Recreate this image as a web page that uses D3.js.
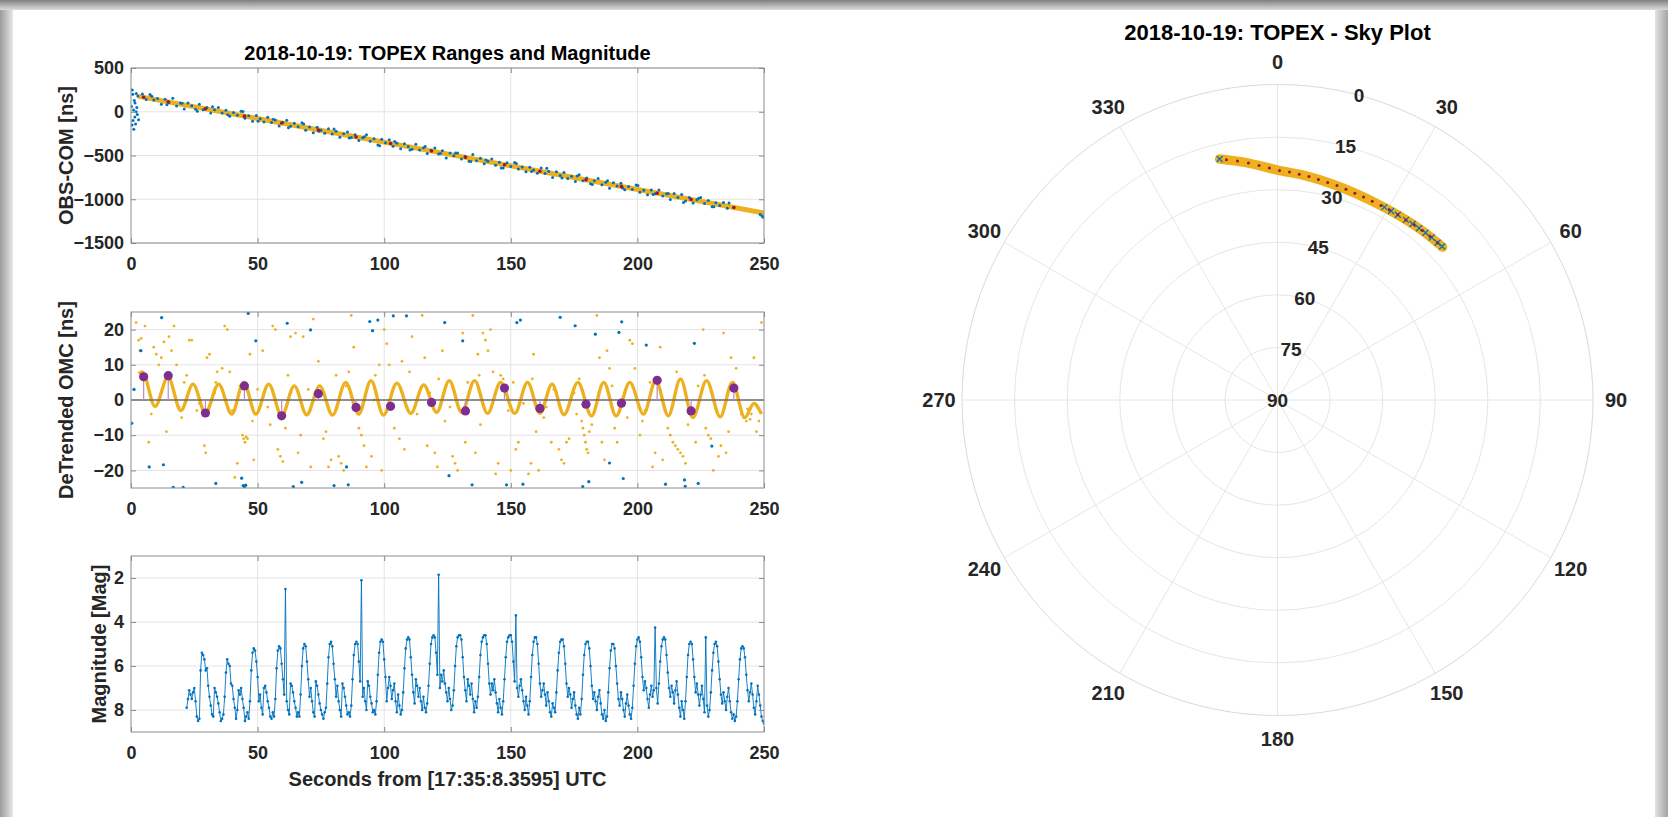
<!DOCTYPE html>
<html><head><meta charset="utf-8">
<script src="https://cdn.jsdelivr.net/npm/d3@7"></script>
<style>
body{margin:0;background:#fff;overflow:hidden;}
svg{display:block;}
text{font-family:"Liberation Sans",Arial,Helvetica,sans-serif;font-weight:bold;}
</style></head><body>
<svg id="c" width="1668" height="817"></svg>
<script>
// ---------------- DATA ----------------
const X_TICKS = [0, 50, 100, 150, 200, 250];
const TOP_Y_TICKS = [500, 0, -500, -1000, -1500];
const MID_Y_TICKS = [-20, -10, 0, 10, 20];
const MAG_Y_TICKS = [2, 4, 6, 8];
const AZ_TICKS = [0, 30, 60, 90, 120, 150, 180, 210, 240, 270, 300, 330];
const EL_TICKS = [0, 15, 30, 45, 60, 75, 90];

// Top panel: raw OBS-COM (blue) [t, ns]
const topBlue = [
[0.2,60],[0.4,-150],[0.5,250],[0.7,200],[0.8,-100],[1.0,20],[1.1,-200],[1.3,130],[1.5,-60],[1.6,100],[1.8,-140],[2.0,0],[2.1,210],[2.3,50],[2.5,-30],[2.7,180],[3.0,-90],
[4.5,204],[6,140],[7.5,196],[9,133],[10.5,151],[12,87],[13.5,143],[15,107],[16.5,153],[18,67],[19.5,99],[21,31],[22.5,101],[24,68],[25.5,30],[27,86],[28.5,22],[30,50],[31.5,-14],[33,22],[34.5,50],[36,-14],[37.5,18],[39,-51],[40.5,-9],[42,-41],[43.5,5],[45,-73],[46.5,-45],[48,-109],[49.5,-43],[51,-79],[52.5,-118],[54,-62],[55.5,-122],[57,-94],[58.5,-162],[60,-122],[61.5,-98],[63,-166],[64.5,-130],[66,-172],[67.5,-127],[69,-211],[70.5,-173],[72,-241],[73.5,-177],[75,-211],[76.5,-245],[78,-193],[79.5,-255],[81,-223],[82.5,-292],[84,-250],[85.5,-230],[87,-294],[88.5,-262],[90,-328],[91.5,-296],[93,-262],[94.5,-338],[96,-308],[97.5,-381],[99,-313],[100.5,-355],[102,-321],[103.5,-395],[105,-361],[106.5,-423],[108,-367],[109.5,-397],[111,-429],[112.5,-372],[114,-436],[115.5,-412],[117,-476],[118.5,-440],[120,-414],[121.5,-482],[123,-446],[124.5,-528],[126,-472],[127.5,-503],[129,-471],[130.5,-539],[132,-509],[133.5,-567],[135,-489],[136.5,-559],[138,-531],[139.5,-593],[141,-565],[142.5,-540],[144,-610],[145.5,-578],[147,-644],[148.5,-582],[150,-626],[151.5,-580],[153,-654],[154.5,-630],[156,-686],[157.5,-635],[159,-665],[160.5,-703],[162,-643],[163.5,-705],[165,-681],[166.5,-751],[168,-685],[169.5,-729],[171,-695],[172.5,-764],[174,-738],[175.5,-796],[177,-720],[178.5,-788],[180,-758],[181.5,-822],[183,-788],[184.5,-762],[186,-834],[187.5,-807],[189,-875],[190.5,-811],[192,-849],[193.5,-817],[195,-891],[196.5,-853],[198,-889],[199.5,-837],[201,-919],[202.5,-896],[204,-948],[205.5,-894],[207,-936],[208.5,-894],[210,-962],[211.5,-938],[213,-1002],[214.5,-934],[216,-980],[217.5,-945],[219,-1019],[220.5,-981],[222,-1043],[223.5,-1005],[225,-979],[226.5,-1049],[228,-1013],[229.5,-1087],[231,-1041],[232.5,-1072],[234,-1038],[235.5,-1104],
[8.2,178],[14.2,80],[20.2,98],[26.2,6],[32.2,58],[38.2,-34],[44.2,3],[50.2,-109],[56.2,-87],[62.2,-184],[68.2,-141],[74.2,-224],[80.2,-196],[86.2,-299],[92.2,-286],[98.2,-388],[104.2,-341],[110.2,-438],[116.2,-396],[122.2,-478],[128.2,-470],[134.2,-568],[140.2,-550],[146.2,-643],[152.2,-590],[158.2,-682],[164.2,-645],[170.2,-757],[176.2,-735],[182.2,-832],[188.2,-789],[194.2,-872],[200.2,-844],[206.2,-947],[212.2,-934],[218.2,-1036],[224.2,-989],[230.2,-1086],[236.2,-1044],
[248.5,-1175],[249.2,-1190],[249.7,-1205]
];
// Top panel: fitted range (orange band) [t, ns]
const topFit = [[3.5,173],[60,-132],[120,-456],[180,-780],[250,-1158]];

// Normal points (purple)
const npT   = [5.0,14.7,29.4,44.8,59.5,74.0,88.9,102.5,118.7,132.1,147.5,161.5,179.7,193.7,207.8,221.2,238.1];
const npV   = [6.6,6.9,-3.7,4.0,-4.5,1.8,-2.1,-1.8,-0.7,-3.1,3.4,-2.4,-1.2,-0.9,5.6,-3.1,3.4];
const npTop = [165,113,33,-50,-129,-208,-288,-362,-449,-521,-605,-680,-778,-854,-930,-1002,-1094];

// Middle panel: de-trended OMC band extremes [t, ns]
const midBandT = [3,4.5,9.5,14.6,19.7,24.5,29.4,34.6,39.8,44.5,49.3,54.4,59.5,64.5,69.4,74.5,79.6,84.8,89.9,94.8,99.7,105,110.5,115.6,120.7,125.7,130.6,135.7,140.8,146,151.6,156.6,161.5,166.3,171,176.5,181.9,186.7,191.6,197,202.4,207.3,212.2,217,221.9,227.3,232.7,237.5,242.4,246,249];
const midBandV = [7.5,8,-1.8,6.5,-3.0,4.5,-3.7,4.5,-4.0,5.0,-4.0,4.5,-4.5,4.0,-4.2,4.0,-4.3,5.0,-4.0,5.5,-4.3,4.8,-3.8,4.3,-3.5,5.5,-3.5,5.5,-3.8,5.0,-3.8,5.0,-3.8,4.5,-4.2,5.0,-4.5,5.0,-4.5,5.0,-4.0,5.5,-4.5,6.0,-5.0,5.5,-4.8,5.0,-5.0,-1,-4];
// Middle panel: scattered orange points
const midOrange = [
[2,22],[3,17],[3.5,14],[4,17.5],[5.5,21],[7,-12],[8,-4],[9,15],[10,13],[11,10],[12,12],[13,16.5],[14,-9],[15,18],[16,14],[17,21],[18,10],[19,-2],[20,-5],[21,5],[22,7],[23,17],[24,17],[26,-3],[27,-1],[29,-13],[29.5,-15],[30,12],[31,13],[33,2],[33.5,5],[34,8],[36,9],[37,21],[38,20],[39,8],[40,-3],[41,-22],[42,-18],[43,4],[44,-10],[44.5,-11],[45,-12],[45.5,-10.5],[46,-11],[47,13],[48,-6],[48.5,-17],[50,3],[52,14],[54,-2],[55,-7],[56,21],[57,20],[58,-14],[59,-16],[60,-17.5],[61,-8],[62,7],[63,18],[65,19],[66,-15],[67,-10],[68,18],[70,3],[71,-19],[72,23],[74,11],[76,-11],[77,-9],[78,-19],[79,-17],[81,7],[82,-16],[83,-18],[84,-20],[85,4],[86,8],[87,24],[88,15],[90,-8],[91,-10],[92,-13],[93,-19],[95,-16],[96,0],[96.5,7],[98,10],[99,-20],[100,20],[101,16],[102,10],[104,-8],[106,-11],[107,11],[108,-14],[110,8],[111,18],[113,-4],[115,24],[116,12],[117,-13],[118,2],[120,-15],[121,-19],[121.5,6],[123,14],[124,-6],[126,-2],[127,-16],[128,-18],[129,-20],[131,19],[132,-12],[133,5],[135,24],[136,-15],[137,13],[137.5,7],[138,-7],[139,19],[140,17],[141,14],[142,20],[143,8],[144,-21],[145,-18],[146,7],[147,6],[149,-3],[150,-20],[151,5],[152,-14],[153,-12],[155,-1],[157,-21],[158,-18],[158.5,6],[159,13],[160,-9],[161,-20],[163,-5],[164,-2],[166,-12],[167,3],[169,-14],[170,-17],[171,-18],[172,-12],[173,-11],[175,2],[176,-4],[177,6],[178,-6],[178.5,-8],[179,-10],[179.5,-12],[180,-14],[180.5,-15],[181,-9],[182,-7],[184,24],[185,12],[186,-12],[187,-17],[188,14],[189,9],[190,4],[191,-8],[192,-12],[196,-5],[197,17],[198,16],[199,9],[201,-10],[202,-6],[203,-3],[205,5],[206,-19],[207,-15],[209,15],[210,-17],[212,-8],[213,-10],[214,-12],[215,-13],[215.5,8],[216,-14],[217,-15],[218,-16],[219,-18],[220,-7],[223,-12],[224,4],[226,20],[226.5,7],[227,-8],[228,-10],[229,-11],[230,-20],[232,-16],[233,-13],[234,19],[235,-15],[236,-9],[237,12],[238,5],[239,9],[241,-4],[242,-5],[243,-6],[243.5,-2.5],[244,-3],[244.5,-5.5],[245,-4],[246,12],[247,-9],[248,-6],[249,22]
];
// Middle panel: blue outliers
const midBlue = [
[0.3,-6.6],[1.2,3.0],[3.9,14.0],[7.2,-19],[12.1,23.4],[12.8,-18.4],[16.7,-24.8],[20.6,-24.8],[33.5,-23.7],[43.7,-22.2],[44.3,-24.3],[44.8,-24.6],[45.3,-24.2],[46.3,24.6],[49.3,16.8],[61.7,21.8],[64.1,-24.6],[67.4,-23.4],[70.9,19.9],[80.2,-24.3],[85.1,-19],[85.8,-24.1],[94.3,22.3],[95.4,19.7],[97.5,22.7],[103.6,23.9],[108.8,23.9],[123.9,22],[125.6,-21.5],[131,16.8],[134.7,-24.1],[148.3,-24.1],[152.4,22],[153.8,22.7],[154.8,-23.9],[169.5,23.5],[175.4,21.1],[178.4,-24.6],[180.8,-23.2],[183.4,18.7],[189,-17.9],[192.7,19.2],[193.8,22.2],[194.4,-22.3],[203.5,15.6],[211.1,-23.9],[218.6,-22.7],[218.9,-24.5],[222.5,16.1],[224,-23.7],[229.4,-13.1]
];

// Bottom panel: magnitude, one sample every 0.5 s starting at t = 22 s
const magStart = 22;
const magStep = 0.5;
const magVals = [
7.9,7.5,7.1,7.3,7.5,7.2,7.0,7.6,8.3,8.5,8.4,6.2,5.4,5.5,5.7,6.2,6.1,6.9,7.4,7.8,
8.2,8.3,7.0,7.2,7.4,7.7,8.1,8.5,8.4,8.2,7.4,6.3,5.7,5.9,6.0,6.8,6.9,7.5,7.9,8.4,
8.0,7.1,7.3,7.0,7.5,7.9,8.5,8.3,8.1,8.4,7.6,6.2,5.4,5.2,5.3,5.8,6.5,7.6,7.3,7.9,
8.2,7.0,6.9,7.2,7.6,7.9,8.3,8.4,8.1,8.3,7.5,6.1,5.3,5.1,5.2,5.9,6.6,7.3,2.5,7.6,
8.0,8.2,6.8,6.9,7.2,7.6,7.9,8.3,8.1,8.3,7.3,6.0,5.2,5.0,5.1,5.8,6.6,7.4,7.0,7.6,
8.1,8.3,6.7,6.9,7.3,7.7,8.0,8.2,8.4,8.1,7.9,6.8,5.6,5.0,4.9,5.1,5.9,6.6,7.4,6.9,
7.6,8.0,8.3,6.8,7.0,7.4,7.8,8.2,8.1,8.3,7.8,6.6,5.5,5.0,4.9,5.0,5.8,6.7,2.1,7.4,
7.0,7.6,8.0,6.7,6.9,7.4,7.7,8.1,8.0,8.2,7.6,6.4,5.4,4.9,4.8,4.9,5.7,6.5,7.6,7.0,
6.5,6.9,7.5,7.1,6.8,7.6,8.1,7.3,7.8,8.2,8.0,7.2,6.1,5.2,4.8,4.7,4.8,5.6,6.4,7.2,
7.7,6.6,6.9,7.4,7.0,7.6,8.0,7.4,7.9,8.1,7.7,6.9,5.9,5.0,4.7,4.6,4.7,5.4,6.4,1.85,
7.0,6.4,6.7,6.2,6.8,7.2,7.6,7.0,7.5,8.0,7.8,7.1,6.0,5.1,4.7,4.6,4.6,4.8,5.6,6.5,
7.1,7.6,6.6,6.9,7.3,6.8,7.5,8.1,7.6,7.9,7.4,6.5,5.5,4.9,4.7,4.6,4.6,5.0,5.9,6.8,
7.3,6.8,7.1,6.6,7.2,7.7,8.1,7.5,7.9,8.2,7.6,6.6,5.6,4.9,4.7,4.6,4.6,4.9,5.8,6.7,
3.7,7.0,7.4,6.9,6.6,7.1,7.6,8.0,7.4,7.8,8.2,7.6,6.5,5.5,4.9,4.7,4.7,5.0,5.9,6.8,
7.4,7.1,6.8,7.3,7.8,7.2,7.6,8.1,8.3,7.7,7.9,8.1,7.2,6.2,5.4,4.9,4.8,4.8,5.1,5.9,
6.8,7.4,7.0,7.3,7.9,7.5,7.2,7.8,8.2,8.4,7.9,8.2,7.5,6.4,5.5,5.0,4.9,4.9,5.2,6.0,
6.9,7.5,7.2,7.6,8.0,7.4,7.1,7.7,8.2,8.4,8.0,8.5,8.3,7.2,6.1,5.3,5.0,5.0,5.2,6.0,
6.8,7.5,7.8,7.2,7.5,8.0,8.3,7.7,7.3,7.8,8.2,8.4,7.9,6.9,5.9,5.1,4.8,4.7,4.9,5.6,
6.5,7.1,6.7,7.0,7.5,7.9,7.3,6.9,7.4,7.1,4.25,7.0,7.7,6.8,5.8,5.1,4.8,4.7,4.8,5.5,
6.3,7.0,7.4,6.9,7.2,7.7,7.1,6.7,7.3,7.9,8.3,7.6,8.0,8.4,7.6,6.5,5.5,5.0,4.9,5.0,
5.7,6.5,7.2,6.8,7.3,7.8,7.3,6.9,7.5,8.1,4.7,7.8,8.3,8.0,7.2,6.2,5.4,5.0,4.9,5.1,
5.8,6.6,7.3,7.7,7.2,7.6,8.0,7.4,7.0,7.6,8.1,8.4,8.2,8.5,8.3,7.6,6.6,5.7,5.2,5.1,
5.2,5.6,6.4,7.1,7.6,7.2,6.8,7.3,7.9,8.2,7.6,6.9,7.3,7.8,8.3,8.5,8.6
];

// Sky plot: track (azimuth deg, elevation deg)
const trackAz = [346.5,352.5,0,7,14,21,28,35,41,47.2];
const trackEl = [19.3,21.7,24.4,25.5,26.4,27.0,27.2,26.9,26.4,25.8];
// Sky plot: normal-point dots along the track
const dotAz = [348,350.5,353,355.5,358,0.5,3,5.5,8,10.5,13,15.5,18,20.5,23,25.5,28,30.5,33,35.5,38,40.5,43,45.5];
const dotEl = [19.9,20.9,21.9,22.9,23.8,24.5,24.9,25.3,25.6,26.0,26.3,26.5,26.8,27.0,27.1,27.2,27.2,27.1,27.0,26.9,26.6,26.4,26.2,26.0];
// Sky plot: blue range markers
const markAz = [346.5,29,31,33,35.5,37.5,39.5,41.5,43.5,45.5,47];
const markEl = [19.3,27.1,27.1,27.0,26.9,26.7,26.5,26.3,26.1,26.0,25.8];

// ---------------- DRAW ----------------
const BLUE = '#0072BD', ORANGE = '#EDB120', PURPLE = '#7E2F8E', DOTRED = '#A2142F';
const TXT = '#262626', AXC = '#8c8c8c', GRID = '#e4e4e4';
const svg = d3.select('#c');
const defs = svg.append('defs');

// window frame
const gT = defs.append('linearGradient').attr('id','gT').attr('x1',0).attr('y1',0).attr('x2',0).attr('y2',1);
gT.append('stop').attr('offset','0%').attr('stop-color','#808080');
gT.append('stop').attr('offset','100%').attr('stop-color','#dcdcdc');
const gL = defs.append('linearGradient').attr('id','gL').attr('x1',0).attr('y1',0).attr('x2',1).attr('y2',0);
gL.append('stop').attr('offset','0%').attr('stop-color','#9c9c9c');
gL.append('stop').attr('offset','100%').attr('stop-color','#e8e8e8');
const gR = defs.append('linearGradient').attr('id','gR').attr('x1',0).attr('y1',0).attr('x2',1).attr('y2',0);
gR.append('stop').attr('offset','0%').attr('stop-color','#e2e2e2');
gR.append('stop').attr('offset','100%').attr('stop-color','#a4a4a4');
svg.append('rect').attr('x',0).attr('y',0).attr('width',1668).attr('height',817).attr('fill','#fff');
svg.append('rect').attr('x',0).attr('y',0).attr('width',13).attr('height',817).attr('fill','url(#gL)');
svg.append('rect').attr('x',1655).attr('y',0).attr('width',13).attr('height',817).attr('fill','url(#gR)');
svg.append('rect').attr('x',0).attr('y',0).attr('width',1668).attr('height',10).attr('fill','url(#gT)');

const L = 131, R = 764;
const x = d3.scaleLinear().domain([0, 250]).range([L, R]);

function panel(y0, y1, ydom, yticks, id) {
  const y = d3.scaleLinear().domain(ydom).range([y1, y0]);
  const g = svg.append('g');
  defs.append('clipPath').attr('id', id).append('rect')
    .attr('x', L).attr('y', y0).attr('width', R - L).attr('height', y1 - y0);
  g.append('g').selectAll('line').data(X_TICKS.slice(1, -1)).join('line')
    .attr('x1', d => x(d)).attr('x2', d => x(d)).attr('y1', y0).attr('y2', y1)
    .attr('stroke', GRID).attr('stroke-width', 1);
  g.append('g').selectAll('line').data(yticks).join('line')
    .attr('x1', L).attr('x2', R).attr('y1', d => y(d)).attr('y2', d => y(d))
    .attr('stroke', GRID).attr('stroke-width', 1);
  const plot = g.append('g').attr('clip-path', `url(#${id})`);
  return { y, g, plot, y0, y1, yticks };
}

function finishAxes(p) {
  const { y, g, y0, y1, yticks } = p;
  const style = sel => {
    sel.select('.domain').remove();
    sel.selectAll('.tick line').attr('stroke', AXC).attr('stroke-width', 1);
    sel.selectAll('.tick text').attr('fill', TXT).style('font-size', '18px')
      .style('font-family', '"Liberation Sans",Arial,sans-serif').style('font-weight', 'bold');
  };
  g.append('g').attr('transform', `translate(0,${y1})`)
    .call(d3.axisBottom(x).tickValues(X_TICKS).tickSize(-5).tickPadding(14).tickFormat(d3.format('d'))).call(style);
  g.append('g').attr('transform', `translate(0,${y0})`)
    .call(d3.axisTop(x).tickValues(X_TICKS).tickSize(-5).tickFormat('')).call(style);
  g.append('g').attr('transform', `translate(${L},0)`)
    .call(d3.axisLeft(y).tickValues(yticks).tickSize(-5).tickPadding(7).tickFormat(d3.format('d'))).call(style);
  g.append('g').attr('transform', `translate(${R},0)`)
    .call(d3.axisRight(y).tickValues(yticks).tickSize(-5).tickFormat('')).call(style);
  g.append('rect').attr('x', L).attr('y', y0).attr('width', R - L).attr('height', y1 - y0)
    .attr('fill', 'none').attr('stroke', AXC).attr('stroke-width', 1);
}

function ylabel(text, cxp, cyp) {
  svg.append('text').attr('transform', `translate(${cxp},${cyp}) rotate(-90)`)
    .attr('text-anchor', 'middle').attr('dy', '0.35em').attr('fill', TXT)
    .style('font-size', '20px').text(text);
}

// ---- Top panel ----
const pTop = panel(68, 243, [-1500, 500], TOP_Y_TICKS, 'clipTop');
pTop.plot.append('path').datum(topFit)
  .attr('d', d3.line().x(d => x(d[0])).y(d => pTop.y(d[1])))
  .attr('fill', 'none').attr('stroke', ORANGE).attr('stroke-width', 5).attr('stroke-linecap', 'round');
pTop.plot.append('g').selectAll('circle').data(topBlue).join('circle')
  .attr('cx', d => x(d[0])).attr('cy', d => pTop.y(d[1])).attr('r', 1.5).attr('fill', BLUE);
pTop.plot.append('g').selectAll('circle').data(npT).join('circle')
  .attr('cx', d => x(d)).attr('cy', (d, i) => pTop.y(npTop[i])).attr('r', 1.8).attr('fill', DOTRED);
finishAxes(pTop);
svg.append('text').attr('x', (L + R) / 2).attr('y', 60).attr('text-anchor', 'middle')
  .attr('fill', '#000').style('font-size', '20px').text('2018-10-19: TOPEX Ranges and Magnitude');
ylabel('OBS-COM [ns]', 66, (68 + 243) / 2);

// ---- Middle panel ----
const pMid = panel(312, 488, [-25, 25], MID_Y_TICKS, 'clipMid');
pMid.plot.append('g').selectAll('circle').data(midOrange).join('circle')
  .attr('cx', d => x(d[0])).attr('cy', d => pMid.y(d[1])).attr('r', 1.4).attr('fill', ORANGE);
pMid.plot.append('path').datum(midBandT.map((t, i) => [t, midBandV[i]]))
  .attr('d', d3.line().curve(d3.curveMonotoneX).x(d => x(d[0])).y(d => pMid.y(d[1])))
  .attr('fill', 'none').attr('stroke', ORANGE).attr('stroke-width', 3.4);
pMid.plot.append('line').attr('x1', L).attr('x2', R).attr('y1', pMid.y(0)).attr('y2', pMid.y(0))
  .attr('stroke', '#6e6e6e').attr('stroke-width', 1.6);
pMid.plot.append('g').selectAll('circle').data(midBlue).join('circle')
  .attr('cx', d => x(d[0])).attr('cy', d => pMid.y(d[1])).attr('r', 1.6).attr('fill', BLUE);
pMid.plot.append('g').selectAll('line').data(npT).join('line')
  .attr('x1', d => x(d)).attr('x2', d => x(d)).attr('y1', pMid.y(0)).attr('y2', (d, i) => pMid.y(npV[i]))
  .attr('stroke', '#b98ac4').attr('stroke-width', 1.2);
pMid.plot.append('g').selectAll('circle').data(npT).join('circle')
  .attr('cx', d => x(d)).attr('cy', (d, i) => pMid.y(npV[i])).attr('r', 4.6).attr('fill', PURPLE);
finishAxes(pMid);
ylabel('DeTrended OMC [ns]', 66, (312 + 488) / 2);

// ---- Bottom panel ----
const pBot = panel(556, 732, [9, 1], MAG_Y_TICKS, 'clipBot');
const magData = magVals.map((v, i) => [magStart + i * magStep, v]);
pBot.plot.append('path').datum(magData)
  .attr('d', d3.line().x(d => x(d[0])).y(d => pBot.y(d[1])))
  .attr('fill', 'none').attr('stroke', BLUE).attr('stroke-width', 0.9);
pBot.plot.append('g').selectAll('circle').data(magData).join('circle')
  .attr('cx', d => x(d[0])).attr('cy', d => pBot.y(d[1])).attr('r', 1.3).attr('fill', BLUE);
finishAxes(pBot);
ylabel('Magnitude [Mag]', 99, (556 + 732) / 2);
svg.append('text').attr('x', (L + R) / 2).attr('y', 786).attr('text-anchor', 'middle')
  .attr('fill', TXT).style('font-size', '20px').text('Seconds from [17:35:8.3595] UTC');

// ---- Sky plot ----
const cx = 1277.5, cy = 400, PR = 315.5;
const rS = d3.scaleLinear().domain([90, 0]).range([0, PR]);
const aS = d3.scaleLinear().domain([0, 360]).range([0, 2 * Math.PI]);
const pxy = (az, el) => { const r = rS(el), a = aS(az); return [cx + r * Math.sin(a), cy - r * Math.cos(a)]; };
const sky = svg.append('g');
sky.append('g').selectAll('line').data(AZ_TICKS).join('line')
  .attr('x1', cx).attr('y1', cy)
  .attr('x2', d => pxy(d, 0)[0]).attr('y2', d => pxy(d, 0)[1])
  .attr('stroke', '#e6e6e6').attr('stroke-width', 1);
sky.append('g').selectAll('circle').data(EL_TICKS.filter(e => e < 90)).join('circle')
  .attr('cx', cx).attr('cy', cy).attr('r', d => rS(d))
  .attr('fill', 'none').attr('stroke', d => d === 0 ? '#dadada' : '#e6e6e6').attr('stroke-width', 1);
// angle labels
sky.append('g').selectAll('text').data(AZ_TICKS).join('text')
  .attr('x', d => cx + (PR + 23) * Math.sin(aS(d)))
  .attr('y', d => cy - (PR + 23) * Math.cos(aS(d)))
  .attr('text-anchor', 'middle').attr('dy', '0.36em').attr('fill', TXT)
  .style('font-size', '20px').text(d => d);
// track
const trackPts = trackAz.map((a, i) => pxy(a, trackEl[i]));
sky.append('path').datum(trackPts).attr('d', d3.line().curve(d3.curveCatmullRom))
  .attr('fill', 'none').attr('stroke', ORANGE).attr('stroke-width', 9.5).attr('stroke-linecap', 'round');
sky.append('g').selectAll('path').data(markAz).join('path')
  .attr('transform', (d, i) => { const p = pxy(d, markEl[i]); return `translate(${p[0]},${p[1]})`; })
  .attr('d', 'M-3,-3L3,3M-3,3L3,-3').attr('stroke', BLUE).attr('stroke-width', 1.2);
sky.append('g').selectAll('circle').data(dotAz).join('circle')
  .attr('cx', (d, i) => pxy(d, dotEl[i])[0]).attr('cy', (d, i) => pxy(d, dotEl[i])[1])
  .attr('r', 1.5).attr('fill', DOTRED);
// radial labels
sky.append('g').selectAll('text').data(EL_TICKS).join('text')
  .attr('x', d => pxy(15, d)[0]).attr('y', d => pxy(15, d)[1])
  .attr('text-anchor', 'middle').attr('dy', '0.36em').attr('fill', TXT)
  .style('font-size', '19px').text(d => d);
svg.append('text').attr('x', cx).attr('y', 40).attr('text-anchor', 'middle')
  .attr('fill', '#000').style('font-size', '22px').text('2018-10-19: TOPEX - Sky Plot');
</script>
</body></html>
